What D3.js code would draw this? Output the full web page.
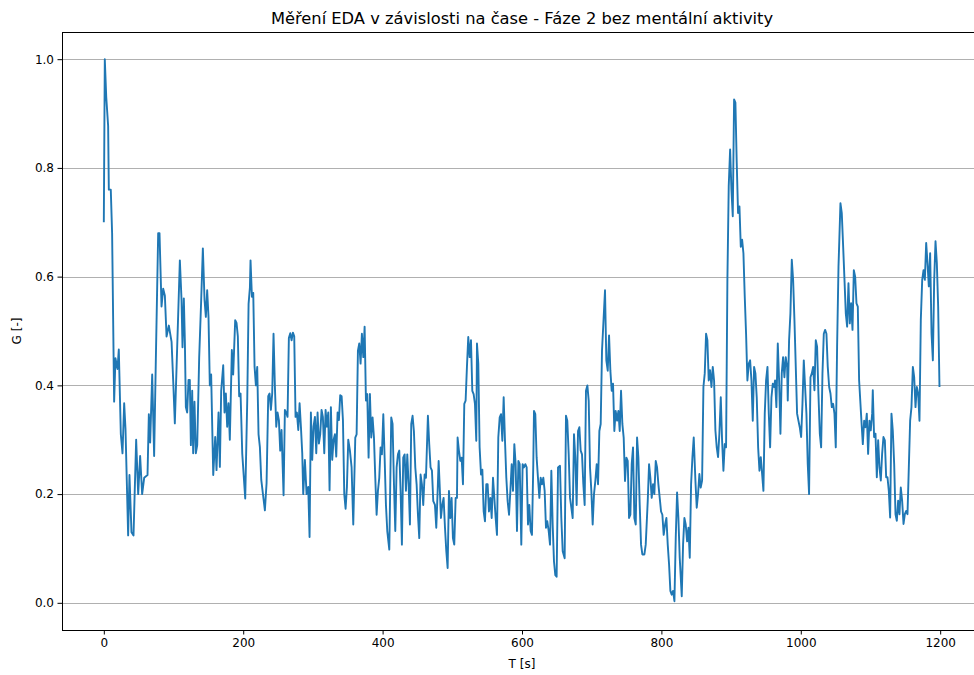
<!DOCTYPE html>
<html>
<head>
<meta charset="utf-8">
<script src="https://cdn.jsdelivr.net/npm/d3@7"></script>
<style>
  body { margin: 0; background: #fff; }
  svg { display: block; font-family: "DejaVu Sans", sans-serif; }
</style>
</head>
<body>
<svg id="chart" width="974" height="675"></svg>
<script>
// EDA samples (time in s, conductance G normalised)
const timeSec = [
  0, 1.4, 3.5, 6.2, 7.2, 10, 11.9, 14.8, 16.7, 19.6, 21.5, 24.4, 26.8, 29.2, 31.1, 34.9, 36.8, 39.7, 42.6, 46.4,
  49.3, 52.1, 55, 57.9, 62.7, 64.6, 66.5, 69.4, 72.2, 74.6, 78, 79.9, 82.8, 85.2, 87.6, 90, 93.3, 97.2, 99.5, 101.9,
  109.1, 111.5, 112.9, 114.8, 116.3, 117.7, 119.6, 121.5, 123.4, 124.9, 126.8, 128.2, 130.1, 132, 134, 136.8, 139.7, 142.1, 144.5, 146.4,
  148.3, 150.2, 152.1, 154, 157, 159.8, 161.7, 164.6, 166.5, 168.4, 171.3, 173.2, 175.1, 177, 178.9, 180.8, 183.7, 185.6, 188.5, 190.4,
  192.3, 194.2, 196.2, 198.6, 202.9, 205.8, 207.7, 209.6, 210.5, 212.5, 214.4, 216.3, 218.2, 220.1, 222, 223.9, 225.9,
  231.1, 233.5, 235.9, 237.8, 239.7, 241.6, 243.5, 245.4, 247.4, 249.3, 251.2, 253.1, 255, 257.9, 259.8, 261.7, 263.6, 265.5, 267.5, 269.4,
  271.3, 273.2, 275.1, 277, 279, 280.9, 282.8, 284.7, 286.1, 288.5, 290.9, 293.3, 295.2, 297.1, 299, 300.9, 302.9, 304.8, 306.7, 308.6,
  310.5, 312.4, 314.3, 316.3, 318.2, 320.1, 322, 323.9, 325.8, 327.7, 329.7, 331.6, 333.5, 335.4, 337.3, 339.2, 341.2, 343.1, 345, 346.9,
  348.8, 350.7,
  353.1, 355.5, 357.9, 360.8, 362.7, 364.6, 366.5, 368.4, 370.3, 372.3, 374.2, 376.1, 378, 379.9, 381.8, 383.7, 385.6, 387.6, 389.5, 391.4,
  393.3, 395.2, 397.1, 399, 401, 402.9, 404.8, 406.7, 409.6, 412.4, 414.3, 416.3, 418.2, 420.1, 422, 423.9, 425.8, 427.7, 429.6, 431.6,
  433.5, 435.4, 437.3, 439.2, 441.1, 443, 444.9, 446.9, 448.8, 450.7, 452.6, 454.5, 456.4, 458.3, 460.3, 462.2, 465, 466.9, 468.8, 470.8,
  472.7,
  475.1, 477, 479, 480.4, 481.8, 483.7, 485.6, 487.5, 489.5, 491.4, 493.3, 495.2, 497.1, 499, 500.9, 502.8, 504.8, 506.7, 507.6, 509.5,
  511.5, 513.4, 515.3, 517.2, 519.1, 521, 522.9, 524.9, 526.8, 528.7, 530.6, 532.5, 534.4, 535.4, 537.3, 539.2, 541.2, 543.1, 545, 546.9,
  548.8, 550.7, 552.6, 554.6, 556.5, 558.4, 560.3, 562.2, 564.1, 566, 568, 569.9, 571.8, 573.7, 575.6, 577.5, 579.4, 581.4, 583.3, 585.2,
  587.1, 589, 590.9, 592.8, 594.8, 596.7,
  599, 600.9, 602.8, 604.8, 606.7, 608.6, 610.5, 612.4, 614.3, 616.2, 617.2, 619.1, 621, 622.9, 624.9, 626.8, 628.7, 630.6, 632.5, 634.4,
  636.3, 638.3, 640.2, 642.1, 644, 645.9, 647.8, 649.7, 651.7, 654.5, 656.4, 658.4, 661.2, 663.1, 665, 667, 668.9, 670.8, 672.7, 674.6,
  676.5, 678.4, 680.4, 682.3, 684.2, 686.1, 688, 689.9, 691.8, 693.8, 695.7, 697.6, 699.5, 701.4, 703.3, 705.2, 707.2, 709.1, 711, 712.9,
  714.8,
  719.1, 721, 723, 724.9, 726.8, 728.7, 730.6, 732.5, 734.4, 736.4, 738.3, 740.2, 742.1, 744, 745.9, 747.8, 749.8, 751.7, 753.6, 755.5,
  757.4, 759.3, 761.2, 763.2, 765.1, 767, 768.9, 770.8, 772.7, 775.6, 777.5, 780.4, 782.3, 784.2, 786.1, 788, 789.9, 791.9, 793.8, 795.7,
  797.6, 799.5, 801.4, 803.3, 805.3, 807.2, 809.1, 811, 812.9, 814.8, 816.7, 818.7, 820.6, 822.5, 824.4, 826.3, 829.2, 831.1, 833, 834.9,
  836.9, 838.8, 840.7, 842.6, 844.5, 846.4,
  848.8, 850.7, 852.6, 854.5, 856.4, 858.4, 860.3, 862.2, 864.1, 866, 867.9, 869.8, 871.8, 873.7, 875.6, 877.5, 879.4, 881.3, 883.2, 885.2,
  887.1, 889, 890.9, 892.8, 894.7, 896.6, 898.6, 900.5, 902.4, 904.3, 906.2, 908.1, 910, 912, 913.9, 915.8, 917.7, 919.6, 921.5, 923.4,
  925.4, 927.3, 929.2, 931.1, 933, 934.9, 936.8, 938.8, 940.7, 942.6, 944.5, 946.4, 948.3, 950.2, 952.2, 954.1, 956, 957.9, 959.8, 961.7,
  963.1, 965, 967, 968.9, 970.8, 972.7, 974.6, 976.5, 978.4, 980.4, 981.3, 983.2, 985.1, 987.1, 989, 990.9, 992.8, 994.7, 996.6, 998.5,
  1000.5, 1002.4, 1004.3, 1006.2, 1008.1, 1010, 1011.9, 1013.9, 1015.8, 1017.7, 1019.6, 1021.5, 1023.4, 1025.3, 1027.3, 1029.2, 1031.1, 1033, 1034.9, 1036.8,
  1038.7, 1040.7, 1042.6, 1044.5, 1046.4, 1048.3, 1050.2, 1052.1, 1054.1, 1056.9, 1058.8, 1060.8, 1062.7, 1064.6, 1066.5, 1068.4, 1070.3, 1072.2, 1074.2, 1076.1,
  1078, 1079.9, 1081.8, 1083.7,
  1087, 1089, 1090.9, 1092.8, 1094.7, 1096.6, 1098.5, 1100.4, 1102.4, 1103.3, 1105.2, 1107.2, 1109.1, 1111, 1112.9, 1114.8, 1116.7, 1118.6, 1120.6, 1122.5,
  1124.4, 1126.3, 1128.2, 1130.1, 1132, 1134, 1135.9, 1137.8, 1139.7, 1141.6, 1143.5, 1145.4, 1147.4, 1149.3, 1151.2, 1153.1, 1155, 1156.9, 1158.8, 1160.8,
  1162.7, 1164.6, 1166.5, 1168.4, 1170.3, 1172.2, 1174.2, 1176.1, 1178, 1179.9, 1181.8, 1183.7, 1185.6, 1187.6, 1189.5, 1191.4, 1193.3, 1195.2, 1197.1, 1199
];

const edaG = [
  0.70, 1.0, 0.93, 0.877, 0.76, 0.76, 0.68, 0.37, 0.45, 0.43, 0.466, 0.31, 0.275, 0.367, 0.32, 0.124, 0.235, 0.13, 0.124, 0.30,
  0.20, 0.27, 0.20, 0.23, 0.235, 0.347, 0.295, 0.42, 0.27, 0.445, 0.68, 0.68, 0.545, 0.578, 0.565, 0.49, 0.51, 0.48, 0.41, 0.33,
  0.63, 0.557, 0.47, 0.56, 0.48, 0.36, 0.35, 0.41, 0.41, 0.29, 0.39, 0.275, 0.37, 0.275, 0.29, 0.45, 0.557, 0.652, 0.557, 0.526,
  0.575, 0.526, 0.40, 0.42, 0.235, 0.305, 0.244, 0.35, 0.25, 0.39, 0.437, 0.35, 0.385, 0.324, 0.367, 0.30, 0.465, 0.42, 0.52, 0.515,
  0.49, 0.38, 0.385, 0.275, 0.192, 0.373, 0.55, 0.58, 0.63, 0.563, 0.57, 0.434, 0.40, 0.434, 0.31, 0.287, 0.226,
  0.17, 0.22, 0.38, 0.385, 0.355, 0.385, 0.495, 0.40, 0.324, 0.35, 0.336, 0.28, 0.318, 0.198, 0.355, 0.35, 0.342, 0.487, 0.496, 0.483,
  0.497, 0.49, 0.342, 0.35, 0.318, 0.367, 0.324, 0.275, 0.2, 0.263, 0.2, 0.213, 0.121, 0.35, 0.263, 0.324, 0.342, 0.275, 0.35, 0.293,
  0.31, 0.355, 0.342, 0.275, 0.355, 0.324, 0.35, 0.207, 0.36, 0.263, 0.30, 0.31, 0.269, 0.35, 0.336, 0.382, 0.38, 0.336, 0.2, 0.173,
  0.213, 0.30,
  0.28, 0.249, 0.144, 0.304, 0.31, 0.464, 0.477, 0.44, 0.495, 0.452, 0.508, 0.372, 0.384, 0.267, 0.384, 0.304, 0.341, 0.304, 0.23, 0.162,
  0.206, 0.23, 0.286, 0.273, 0.347, 0.267, 0.18, 0.132, 0.098, 0.341, 0.329, 0.218, 0.132, 0.249, 0.273, 0.28, 0.206, 0.107, 0.267, 0.273,
  0.206, 0.273, 0.218, 0.144, 0.329, 0.344, 0.316, 0.249, 0.218, 0.162, 0.119, 0.236, 0.218, 0.18, 0.236, 0.23, 0.344, 0.292, 0.249, 0.243,
  0.187,
  0.18, 0.138, 0.206, 0.261, 0.218, 0.156, 0.18, 0.193, 0.138, 0.095, 0.064, 0.206, 0.156, 0.193, 0.119, 0.107, 0.193, 0.193, 0.304, 0.28,
  0.261, 0.267, 0.218, 0.366, 0.372, 0.434, 0.489, 0.452, 0.483, 0.39, 0.384, 0.366, 0.298, 0.477, 0.44, 0.286, 0.236, 0.245, 0.168, 0.15,
  0.218, 0.218, 0.168, 0.193, 0.156, 0.23, 0.193, 0.156, 0.125, 0.304, 0.341, 0.347, 0.298, 0.378, 0.298, 0.23, 0.187, 0.162, 0.206, 0.255,
  0.206, 0.292, 0.255, 0.132, 0.261, 0.255,
  0.107, 0.255, 0.249, 0.255, 0.249, 0.144, 0.18, 0.132, 0.125, 0.255, 0.353, 0.347, 0.267, 0.23, 0.193, 0.23, 0.218, 0.23, 0.206, 0.138,
  0.15, 0.132, 0.107, 0.243, 0.144, 0.076, 0.051, 0.048, 0.249, 0.252, 0.156, 0.095, 0.082, 0.344, 0.335, 0.273, 0.193, 0.175, 0.156, 0.31,
  0.267, 0.18, 0.316, 0.323, 0.28, 0.273, 0.218, 0.18, 0.39, 0.40, 0.372, 0.249, 0.206, 0.144, 0.2, 0.224, 0.255, 0.218, 0.316, 0.329,
  0.464,
  0.575, 0.446, 0.427, 0.492, 0.427, 0.39, 0.403, 0.316, 0.353, 0.335, 0.353, 0.316, 0.39, 0.329, 0.304, 0.224, 0.267, 0.261, 0.156, 0.162,
  0.255, 0.286, 0.156, 0.144, 0.304, 0.267, 0.18, 0.107, 0.089, 0.089, 0.107, 0.187, 0.255, 0.23, 0.193, 0.218, 0.2, 0.261, 0.249, 0.218,
  0.193, 0.168, 0.162, 0.125, 0.144, 0.156, 0.107, 0.071, 0.022, 0.015, 0.022, 0.003, 0.12, 0.203, 0.156, 0.083, 0.012, 0.107, 0.156, 0.144,
  0.113, 0.138, 0.083, 0.218, 0.267, 0.304,
  0.225, 0.175, 0.2, 0.237, 0.212, 0.225, 0.397, 0.422, 0.495, 0.483, 0.409, 0.428, 0.397, 0.434, 0.409, 0.317, 0.286, 0.268, 0.311, 0.378,
  0.298, 0.243, 0.292, 0.286, 0.594, 0.766, 0.834, 0.76, 0.711, 0.926, 0.92, 0.809, 0.717, 0.729, 0.655, 0.668, 0.643, 0.563, 0.495, 0.409,
  0.44, 0.446, 0.409, 0.335, 0.434, 0.422, 0.378, 0.286, 0.243, 0.268, 0.237, 0.206, 0.348, 0.409, 0.434, 0.348, 0.286, 0.378, 0.403, 0.397,
  0.409, 0.36, 0.477, 0.409, 0.311, 0.422, 0.452, 0.415, 0.452, 0.434, 0.372, 0.483, 0.532, 0.631, 0.594, 0.52, 0.434, 0.348, 0.335, 0.323,
  0.305, 0.366, 0.446, 0.397, 0.348, 0.255, 0.2, 0.415, 0.422, 0.434, 0.391, 0.483, 0.471, 0.385, 0.311, 0.286, 0.422, 0.495, 0.502, 0.495,
  0.434, 0.397, 0.385, 0.36, 0.366, 0.348, 0.286, 0.471, 0.618, 0.735, 0.717, 0.655, 0.594, 0.532, 0.508, 0.588, 0.514, 0.551, 0.502, 0.612,
  0.6, 0.551, 0.545, 0.409,
  0.335, 0.292, 0.335, 0.323, 0.348, 0.274, 0.335, 0.317, 0.348, 0.391, 0.305, 0.311, 0.231, 0.299, 0.249, 0.225, 0.274, 0.305, 0.299, 0.231,
  0.231, 0.206, 0.157, 0.348, 0.317, 0.255, 0.163, 0.151, 0.188, 0.163, 0.212, 0.188, 0.145, 0.163, 0.169, 0.163, 0.249, 0.335, 0.36, 0.434,
  0.415, 0.36, 0.397, 0.385, 0.335, 0.52, 0.594, 0.612, 0.594, 0.662, 0.625, 0.582, 0.643, 0.495, 0.446, 0.594, 0.665, 0.625, 0.545, 0.397
];

const xTicks = [0, 200, 400, 600, 800, 1000, 1200];
const yTicks = [0.0, 0.2, 0.4, 0.6, 0.8, 1.0];

const chartTitle = "Měření EDA v závislosti na čase - Fáze 2 bez mentální aktivity";
const xLabel = "T [s]";
const yLabel = "G [-]";

const data = timeSec.map((t, i) => ({ t: t, g: edaG[i] }));

// plot box (right edge runs past the window like in the original)
const margin = { top: 32, right: -8, bottom: 45, left: 62 };
const W = 974, H = 675;
const svg = d3.select("#chart");

const x = d3.scaleLinear().domain([-60, 1260]).range([margin.left, W - margin.right]);
const y = d3.scaleLinear().domain([-0.05, 1.05]).range([H - margin.bottom, margin.top]);

// horizontal grid
svg.append("g")
  .selectAll("line")
  .data(yTicks)
  .join("line")
  .attr("x1", margin.left)
  .attr("x2", W - margin.right)
  .attr("y1", d => Math.round(y(d)) + 0.5)
  .attr("y2", d => Math.round(y(d)) + 0.5)
  .attr("stroke", "#b0b0b0")
  .attr("stroke-width", 1);

// the signal
const line = d3.line().x(d => x(d.t)).y(d => y(d.g));
svg.append("path")
  .datum(data)
  .attr("fill", "none")
  .attr("stroke", "#1f77b4")
  .attr("stroke-width", 1.9)
  .attr("stroke-linejoin", "round")
  .attr("d", line);

// axes
const xAxis = svg.append("g")
  .attr("transform", "translate(0," + (H - margin.bottom) + ")")
  .call(d3.axisBottom(x).tickValues(xTicks).tickFormat(d3.format("d")).tickSize(4.5).tickPadding(3.5).tickSizeOuter(0));
const yAxis = svg.append("g")
  .attr("transform", "translate(" + margin.left + ",0)")
  .call(d3.axisLeft(y).tickValues(yTicks).tickFormat(d3.format(".1f")).tickSize(4.5).tickPadding(3.5).tickSizeOuter(0));

[xAxis, yAxis].forEach(g => {
  g.selectAll("text").attr("font-family", "DejaVu Sans").attr("font-size", 12).attr("fill", "#000");
  g.selectAll("line").attr("stroke", "#000").attr("stroke-width", 1);
  g.select(".domain").remove();
});

// spines
svg.append("rect")
  .attr("x", margin.left + 0.5)
  .attr("y", margin.top + 0.5)
  .attr("width", W - margin.right - margin.left)
  .attr("height", H - margin.bottom - margin.top)
  .attr("fill", "none")
  .attr("stroke", "#000")
  .attr("stroke-width", 1);

// labels
svg.append("text")
  .attr("x", (margin.left + W - margin.right) / 2)
  .attr("y", 24)
  .attr("text-anchor", "middle")
  .attr("font-size", 16.3)
  .text(chartTitle);

svg.append("text")
  .attr("x", (margin.left + W - margin.right) / 2)
  .attr("y", 668)
  .attr("text-anchor", "middle")
  .attr("font-size", 12)
  .text(xLabel);

svg.append("text")
  .attr("transform", "translate(21," + ((margin.top + H - margin.bottom) / 2) + ") rotate(-90)")
  .attr("text-anchor", "middle")
  .attr("font-size", 12)
  .text(yLabel);
</script>
</body>
</html>
